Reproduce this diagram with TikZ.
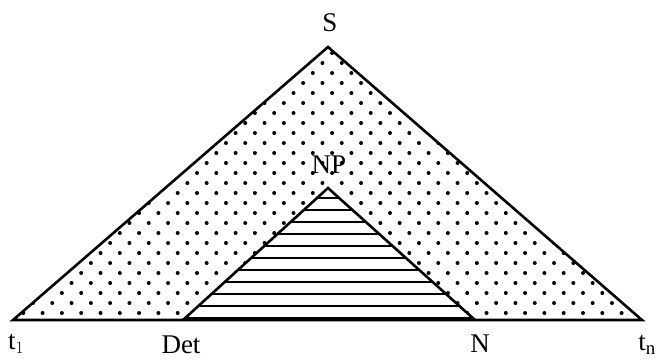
\documentclass[tikz,border=0pt]{standalone}
\usepackage{fontspec}
\setmainfont{Liberation Serif}
\begin{document}
\begin{tikzpicture}[x=1pt,y=-1pt,
  lbl/.style={inner sep=0pt,font=\fontsize{27}{30}\selectfont},
  outline/.style={line width=2.6pt,line join=miter}]
\useasboundingbox (0,0) rectangle (657,360);
\coordinate (L) at (13,320);
\coordinate (T) at (328,47);
\coordinate (R) at (642,320);
\coordinate (iL) at (183,320);
\coordinate (iT) at (328,188);
\coordinate (iR) at (475,320);
% dots
\begin{scope}[even odd rule]
\clip (L) -- (T) -- (R) -- cycle (iL) -- (iT) -- (iR) -- cycle;
\foreach \r in {0,...,28} {
  \pgfmathsetmacro\yy{313-10*\r}
  \pgfmathsetmacro\xs{mod(\r,2)*9.65+4}
  \foreach \c in {0,...,34} {
    \fill (\c*19.3+\xs, \yy) circle (2pt);
  }
}
\end{scope}
% hatching
\begin{scope}
\clip (iL) -- (iT) -- (iR) -- cycle;
\foreach \k in {0,...,10} {
  \draw[line width=1.6pt] (180,198+12*\k) -- (480,198+12*\k);
}
\end{scope}
\draw[outline] (L) -- (T) -- (R) -- cycle;
\draw[outline] (iL) -- (iT) -- (iR);
\node[lbl] (s) at (330,23) {S};
\node[lbl] (np) at (329,165) {NP};
\node[lbl] (t1) at (16,344) {t$_{\fontsize{18}{20}\selectfont 1}$};
\node[lbl] (det) at (181,345) {Det};
\node[lbl] (n) at (480,344) {N};
\node[lbl] (tn) at (647,345) {t$_{\fontsize{18}{20}\selectfont\mathrm{n}}$};
\end{tikzpicture}
\end{document}
